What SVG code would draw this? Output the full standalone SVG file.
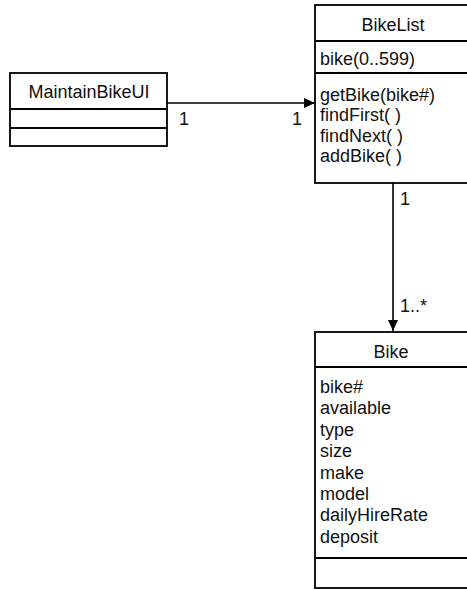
<svg xmlns="http://www.w3.org/2000/svg" width="467" height="590" viewBox="0 0 467 590">
  <style>
    .box { fill: #fff; stroke: #000; stroke-width: 1.8; }
    .div { stroke: #000; stroke-width: 1.8; }
    .conn { stroke: #000; stroke-width: 1.6; fill: none; }
    text { font-family: "Liberation Sans", Arial, sans-serif; font-size: 18px; fill: #111; }
    .c { text-anchor: middle; }
  </style>
  <defs>
    <marker id="arrow" viewBox="0 0 11 10" refX="11" refY="5" markerWidth="11" markerHeight="10" markerUnits="userSpaceOnUse" orient="auto">
      <path d="M0,0 L11,5 L0,10 Z" fill="#000"/>
    </marker>
  </defs>
  <rect width="467" height="590" fill="#fff"/>

  <g id="connectors">
    <line class="conn" x1="167" y1="103" x2="315" y2="103" marker-end="url(#arrow)"/>
    <text x="179" y="125">1</text>
    <text x="292" y="125">1</text>
    <line class="conn" x1="393" y1="183" x2="393" y2="331" marker-end="url(#arrow)"/>
    <text x="400" y="205">1</text>
    <text x="400" y="312">1..*</text>
  </g>

  <g id="MaintainBikeUI">
    <rect class="box" x="10" y="73" width="157" height="73"/>
    <line class="div" x1="10" y1="109" x2="167" y2="109"/>
    <line class="div" x1="10" y1="128" x2="167" y2="128"/>
    <text class="c" x="89" y="98">MaintainBikeUI</text>
  </g>

  <g id="BikeList">
    <rect class="box" x="315" y="5" width="155" height="178"/>
    <line class="div" x1="315" y1="41" x2="470" y2="41"/>
    <line class="div" x1="315" y1="73" x2="470" y2="73"/>
    <text class="c" x="393" y="31">BikeList</text>
    <text x="320" y="65">bike(0..599)</text>
    <text x="320" y="101">getBike(bike#)<tspan x="320" dy="20.3">findFirst( )</tspan><tspan x="320" dy="20.3">findNext( )</tspan><tspan x="320" dy="20.3">addBike( )</tspan></text>
  </g>

  <g id="Bike">
    <rect class="box" x="315" y="332" width="155" height="256"/>
    <line class="div" x1="315" y1="367" x2="470" y2="367"/>
    <line class="div" x1="315" y1="558" x2="470" y2="558"/>
    <text class="c" x="391" y="358">Bike</text>
    <text x="320" y="393">bike#<tspan x="320" dy="21.4">available</tspan><tspan x="320" dy="21.4">type</tspan><tspan x="320" dy="21.4">size</tspan><tspan x="320" dy="21.4">make</tspan><tspan x="320" dy="21.4">model</tspan><tspan x="320" dy="21.4">dailyHireRate</tspan><tspan x="320" dy="21.4">deposit</tspan></text>
  </g>
</svg>
